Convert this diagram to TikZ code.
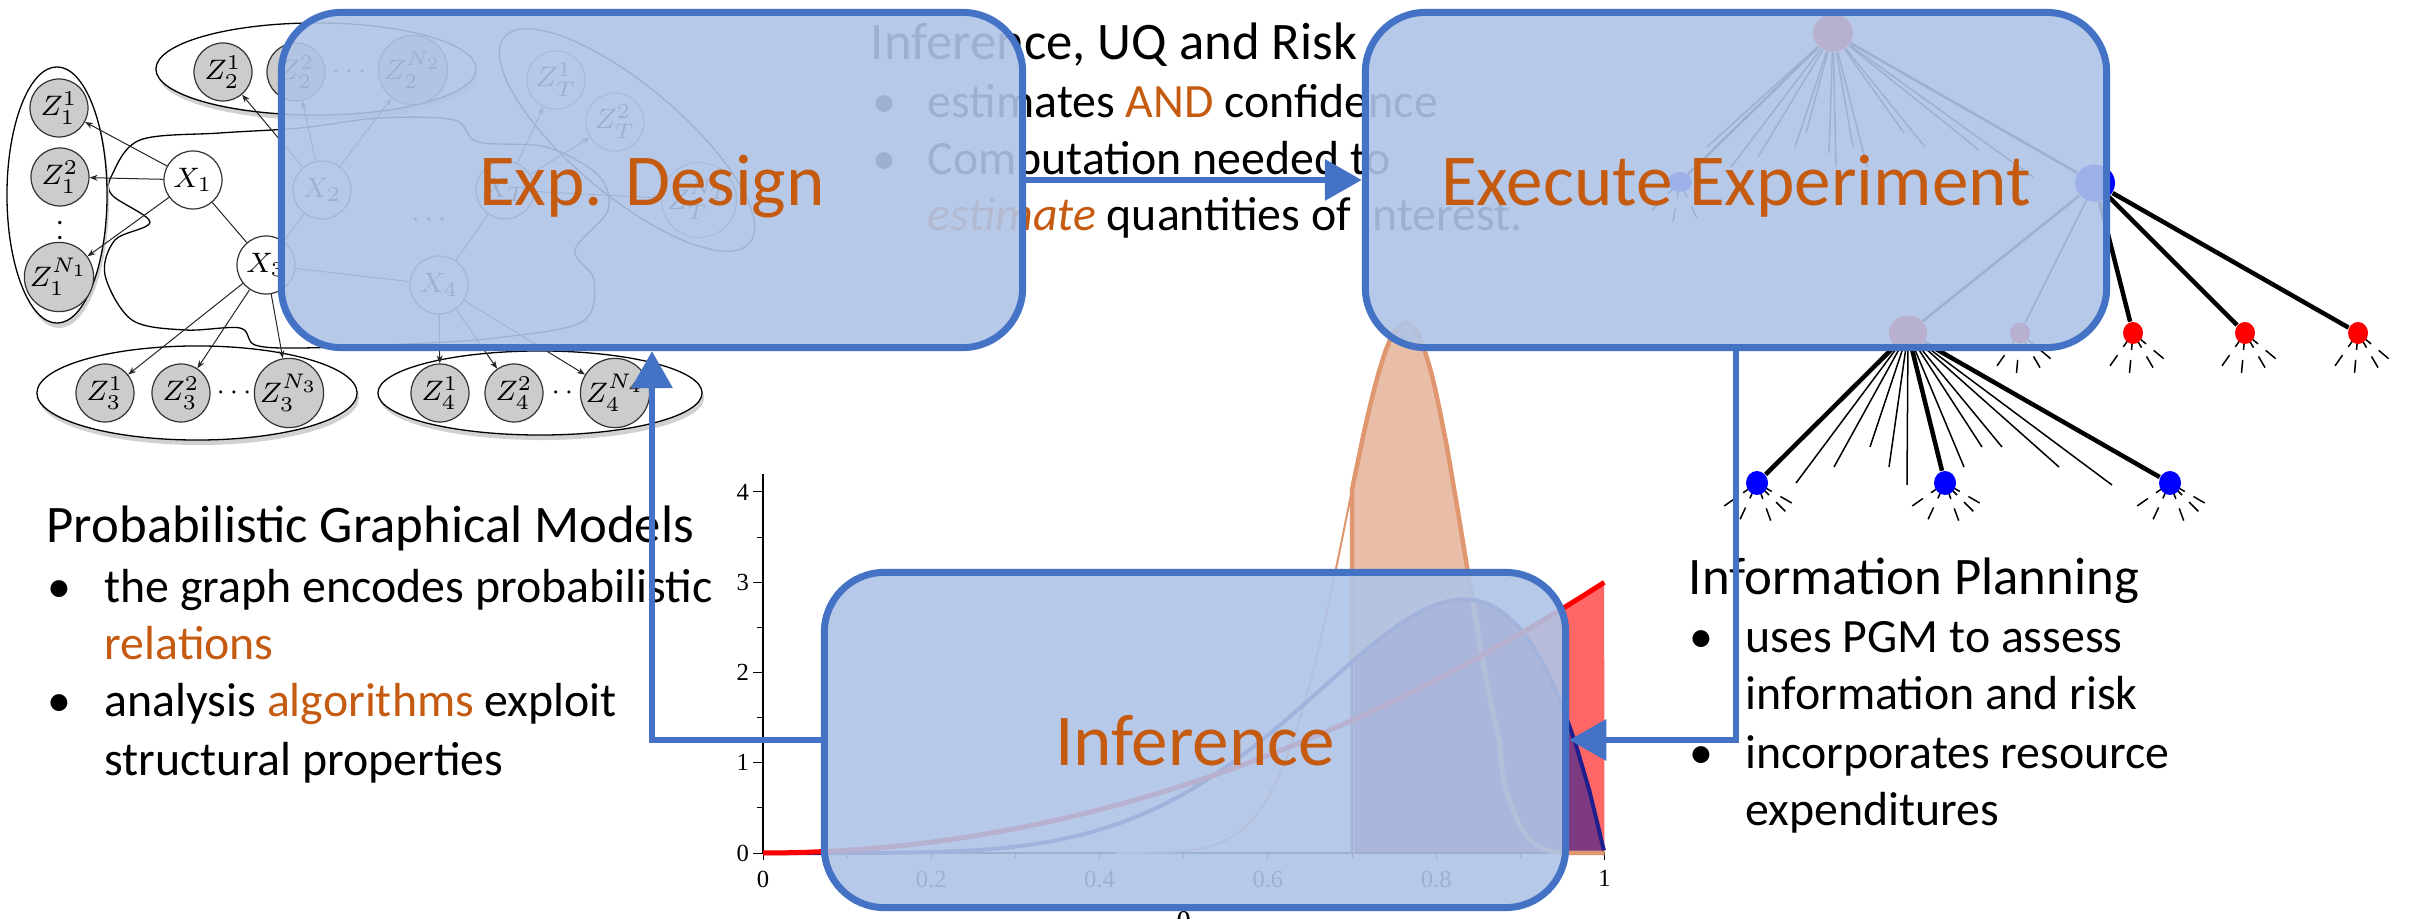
\documentclass[tikz,border=0pt]{standalone}
\usepackage{fontspec}
\setmainfont{Carlito}
\newfontfamily\plotfont{Liberation Serif}
\usetikzlibrary{arrows.meta,shapes.geometric,calc}
\definecolor{boxblue}{HTML}{4472C4}
\definecolor{boxfill}{RGB}{176,196,230}
\definecolor{accent}{HTML}{C55A11}
\definecolor{zgray}{RGB}{204,204,204}
\definecolor{salmonfill}{RGB}{233,190,168}
\definecolor{salmonline}{RGB}{224,150,110}
\definecolor{pinkfill}{RGB}{255,102,102}
\definecolor{purplefill}{RGB}{126,58,128}
\definecolor{navyline}{RGB}{30,30,140}
\begin{document}
\begin{tikzpicture}[x=0.01cm, y=-0.01cm,
  box/.style={draw=boxblue, line width=0.07cm, fill=boxfill, fill opacity=0.9, text opacity=1,
    rounded corners=0.6cm, minimum width=7.41cm, minimum height=3.35cm, inner sep=0pt,
    text=accent, font=\fontsize{20.8pt}{24pt}\selectfont, text height=0.60cm, text depth=0.10cm},
  flow/.style={draw=boxblue, line width=0.065cm, -{Triangle[length=0.37cm,width=0.40cm]}},
  ttitle/.style={inner sep=0pt, anchor=base west, font=\fontsize{15pt}{18pt}\selectfont},
  tbody/.style={inner sep=0pt, anchor=base west, font=\fontsize{13.6pt}{16pt}\selectfont},
  zn/.style={circle, draw=black!80, fill=zgray, line width=0.012cm, minimum size=0.58cm, inner sep=0pt, font=\fontsize{8.5pt}{9pt}\selectfont},
  xn/.style={zn, fill=white},
  dotn/.style={inner sep=0pt, font=\fontsize{8pt}{9pt}\selectfont},
  pe/.style={draw=black!85, line width=0.01cm, -{Stealth[length=0.08cm,width=0.06cm]}},
  pl/.style={draw=black!85, line width=0.01cm},
  grp/.style={draw=black, line width=0.013cm, fill=white},
  tn/.style={ellipse, inner sep=0pt},
  thickl/.style={draw=black, line width=0.045cm},
  medl/.style={draw=black, line width=0.025cm},
  thinl/.style={draw=black, line width=0.015cm},
  ray/.style={draw=black, line width=0.015cm, dash pattern=on 0.17cm off 0.10cm on 0.13cm off 1cm},
  plotlbl/.style={inner sep=0pt, font=\plotfont\fontsize{7pt}{8pt}\selectfont}
]
\fill[white] (0,0) rectangle (2427,919);
\useasboundingbox (0,0) rectangle (2427,919);

% ---------------- PGM graph ----------------
\draw[grp] plot[smooth cycle, tension=0.55] coordinates {(112,175) (140,140) (220,133) (300,128) (380,118) (454,120) (478,142) (546,147) (598,175) (608,210) (575,250) (594,280) (582,322) (495,338) (408,344) (300,348) (255,345) (240,328) (185,330) (132,320) (105,275) (115,240) (150,222) (112,195)};
\draw[grp, fill=none, rotate around={-40:(627,140)}] (627,140) ellipse [x radius=1.6cm, y radius=0.55cm];
\foreach \cx/\cy/\rx/\ry in {57/195/0.50cm/1.28cm, 316/69/1.60cm/0.46cm, 197/393/1.60cm/0.47cm, 540/393/1.62cm/0.42cm}{
  \fill[black!18] (\cx+2,\cy+5) ellipse [x radius=\rx, y radius=\ry];
  \draw[grp] (\cx,\cy) ellipse [x radius=\rx, y radius=\ry];
}
\node[zn] (Z11) at (59,108) {$Z_1^1$};
\node[zn] (Z12) at (60,177) {$Z_1^2$};
\node[dotn] (Z1d) at (60,227) {$\vdots$};
\node[zn] (Z1N) at (59,277) {$Z_1^{N_1}$};
\node[zn] (Z21) at (223,72) {$Z_2^1$};
\node[zn] (Z22) at (296,72) {$Z_2^2$};
\node[dotn] (Z2d) at (349,72) {$\cdots$};
\node[zn] (Z2N) at (413,70) {$Z_2^{N_2}$};
\node[zn] (Z31) at (105,393) {$Z_3^1$};
\node[zn] (Z32) at (181,393) {$Z_3^2$};
\node[dotn] (Z3d) at (234,393) {$\cdots$};
\node[zn] (Z3N) at (289,393) {$Z_3^{N_3}$};
\node[zn] (Z41) at (440,393) {$Z_4^1$};
\node[zn] (Z42) at (514,393) {$Z_4^2$};
\node[dotn] (Z4d) at (569,393) {$\cdots$};
\node[zn] (Z4N) at (615,393) {$Z_4^{N_4}$};
\node[zn, fill=white, draw=black!60] (ZT1) at (556,80) {$Z_T^1$};
\node[zn, fill=white, draw=black!60] (ZT2) at (615,122) {$Z_T^2$};
\node[zn, fill=white, draw=black!60] (ZTN) at (699,200) {$Z_T^{N_T}$};
\node[xn] (X1) at (193,180) {$X_1$};
\node[xn] (X2) at (322,190) {$X_2$};
\node[xn] (X3) at (266,265) {$X_3$};
\node[xn] (X4) at (439,285) {$X_4$};
\node[xn] (XT) at (505,190) {$X_T$};
\node[dotn] (Xd) at (429,220) {$\cdots$};
\draw[pl] (X1) -- (X3);
\draw[pl] (X2) -- (X3);
\draw[pl] (X3) -- (X4);
\draw[pl] (X4) -- (XT);
\foreach \t in {Z11,Z12,Z1N}{\draw[pe] (X1) -- (\t);}
\foreach \t in {Z21,Z22,Z2N}{\draw[pe] (X2) -- (\t);}
\foreach \t in {Z31,Z32,Z3N}{\draw[pe] (X3) -- (\t);}
\foreach \t in {Z41,Z42,Z4N}{\draw[pe] (X4) -- (\t);}
\foreach \t in {ZT1,ZT2,ZTN}{\draw[pe] (XT) -- (\t);}

% ---------------- Tree ----------------
\coordinate (pR) at (1833,33);
\coordinate (pB1) at (1680,182);
\coordinate (pB2) at (2095,183);
\coordinate (pRb) at (1908,333);
\coordinate (pRf) at (2020,333);
\coordinate (pR1) at (2133,333);
\coordinate (pR2) at (2245,333);
\coordinate (pR3) at (2358,333);
\coordinate (pL1) at (1757,483);
\coordinate (pL2) at (1945,483);
\coordinate (pL3) at (2170,483);
\foreach \n in {pR1,pR2,pR3,pRf}{\foreach \a in {125,95,60,40}{\draw[ray] (\n) -- ++(\a:48);}}
\foreach \n in {pL1,pL2,pL3}{\foreach \a in {145,115,70,45,30}{\draw[ray] (\n) -- ++(\a:65);}}
\foreach \a in {135,100,65}{\draw[ray] (pB1) -- ++(\a:40);}
\node[tn, fill=red, minimum width=0.40cm, minimum height=0.38cm] (tR) at (pR) {};
\node[tn, fill=blue, minimum width=0.24cm, minimum height=0.20cm] (tB1) at (pB1) {};
\node[tn, fill=blue, minimum width=0.40cm, minimum height=0.37cm] (tB2) at (pB2) {};
\node[tn, fill=red, minimum width=0.38cm, minimum height=0.35cm] (tRb) at (pRb) {};
\node[tn, fill=red, minimum width=0.20cm, minimum height=0.21cm] (tRf) at (pRf) {};
\node[tn, fill=red, minimum width=0.20cm, minimum height=0.22cm] (tR1) at (pR1) {};
\node[tn, fill=red, minimum width=0.20cm, minimum height=0.22cm] (tR2) at (pR2) {};
\node[tn, fill=red, minimum width=0.20cm, minimum height=0.22cm] (tR3) at (pR3) {};
\node[tn, fill=blue, minimum width=0.22cm, minimum height=0.24cm] (tL1) at (pL1) {};
\node[tn, fill=blue, minimum width=0.22cm, minimum height=0.24cm] (tL2) at (pL2) {};
\node[tn, fill=blue, minimum width=0.22cm, minimum height=0.24cm] (tL3) at (pL3) {};
\draw[medl] (tR) -- (tB1);
\draw[medl] (tR) -- (tB2);
\foreach \ex/\ey in {1707/147, 1731/167, 1758/157, 1795/147, 1806/133, 1829/153, 1836/167, 1853/147, 1867/167, 1904/133, 1925/147, 1979/150, 2033/177}{\draw[thinl] (tR) -- (\ex,\ey);}
\draw[medl] (tB2) -- (tRb);
\draw[thinl] (tB2) -- (tRf);
\foreach \t in {tR1,tR2,tR3}{\draw[thickl] (tB2) -- (\t);}
\foreach \t in {tL1,tL2,tL3}{\draw[thickl] (tRb) -- (\t);}
\foreach \ex/\ey in {1796/483, 1834/467, 1870/447, 1889/467, 1907/485, 1964/467, 1982/447, 2002/447, 2059/467, 2112/485}{\draw[thinl] (tRb) -- (\ex,\ey);}

% ---------------- Plot ----------------
\begin{scope}[shift={(763,853)}, x=8.41cm, y=0.902cm]
  \fill[salmonfill] (0.7,0) -- plot[domain=0.7:0.965, samples=60] (\x,{exp(22.573+29*ln(\x)+9*ln(1-\x))}) -- (1,0) -- cycle;
  \fill[pinkfill] (0.7,0) -- plot[domain=0.7:1, samples=30] (\x,{3*\x*\x}) -- (1,0) -- cycle;
  \fill[purplefill] (0.7,0) -- plot[domain=0.7:1, samples=40] (\x,{42*\x^5*(1-\x)}) -- (1,0) -- cycle;
  \draw[black, line width=0.012cm] (0,0) -- (0,4.2);
  \draw[black, line width=0.02cm] (0,0) -- (1,0);
  \foreach \v in {0,1,2,3,4}{
    \draw[black, line width=0.01cm] (0,\v) -- ++(-0.10cm,0);
    \node[plotlbl, anchor=east] (yl\v) at (-0.016,\v) {\v};
  }
  \foreach \v in {0.5,1.5,2.5,3.5}{\draw[black, line width=0.01cm] (0,\v) -- ++(-0.06cm,0);}
  \foreach \v/\l in {0/0,0.2/0.2,0.4/0.4,0.6/0.6,0.8/0.8,1/1}{
    \draw[black, line width=0.01cm] (\v,0) -- ++(0,-0.07cm);
    \node[plotlbl, anchor=north] (xl\l) at ([yshift=-0.17cm]\v,0) {\l};
  }
  \foreach \v in {0.1,0.3,0.5,0.7,0.9}{\draw[black, line width=0.01cm] (\v,0) -- ++(0,-0.05cm);}
  \node[plotlbl, anchor=north, font=\plotfont\fontsize{9pt}{10pt}\selectfont] (thetalbl) at ([yshift=-0.58cm]0.5,0) {θ};
  \draw[salmonline, line width=0.02cm] plot[domain=0.42:0.7, samples=40] (\x,{exp(22.573+29*ln(\x)+9*ln(1-\x))});
  \draw[salmonline, line width=0.045cm, line join=round] (0.7,0) -- plot[domain=0.7:0.965, samples=60] (\x,{exp(22.573+29*ln(\x)+9*ln(1-\x))}) -- (1,0);
  \draw[navyline, line width=0.015cm] (0.7,0) -- (0.7,2.12);
  \draw[navyline, line width=0.04cm] plot[domain=0:1, samples=60] (\x,{42*\x^5*(1-\x)});
  \draw[red, line width=0.05cm] plot[domain=0:1, samples=40] (\x,{3*\x*\x});
\end{scope}

% ---------------- Texts ----------------
\node[ttitle] (topT) at (870,60) {Inference, UQ and Risk};
\node[tbody] (topB1) at (872,118) {•};
\node[tbody] (topL1) at (927,118) {estimates \textcolor{accent}{AND} confidence};
\node[tbody] (topB2) at (872,175) {•};
\node[tbody] (topL2) at (927,175) {Computation needed to};
\node[tbody] (topL3) at (927,231) {\textcolor{accent}{\itshape estimate} quantities of interest.};

\node[ttitle] (pgmT) at (46,543) {Probabilistic Graphical Models};
\node[tbody] (pgmB1) at (47,603) {•};
\node[tbody] (pgmL1) at (104,603) {the graph encodes probabilistic};
\node[tbody] (pgmL2) at (104,660) {\textcolor{accent}{relations}};
\node[tbody] (pgmB2) at (47,717) {•};
\node[tbody] (pgmL3) at (104,717) {analysis \textcolor{accent}{algorithms} exploit};
\node[tbody] (pgmL4) at (104,775) {structural properties};

\node[ttitle] (ipT) at (1688,595) {Information Planning};
\node[tbody] (ipB1) at (1689,653) {•};
\node[tbody] (ipL1) at (1745,653) {uses PGM to assess};
\node[tbody] (ipL2) at (1745,710) {information and risk};
\node[tbody] (ipB2) at (1689,768) {•};
\node[tbody] (ipL3) at (1745,768) {incorporates resource};
\node[tbody] (ipL4) at (1745,825) {expenditures};

% ---------------- Boxes ----------------
\node[box] (exp) at (652,180) {Exp. Design};
\node[box] (exec) at (1736,180) {Execute Experiment};
\node[box] (inf) at (1195,740) {Inference};

\draw[flow] (exp.east) -- (exec.west);
\draw[flow] (exec.south) |- (inf.east);
\draw[flow] (inf.west) -| (exp.south);
\end{tikzpicture}
\end{document}
